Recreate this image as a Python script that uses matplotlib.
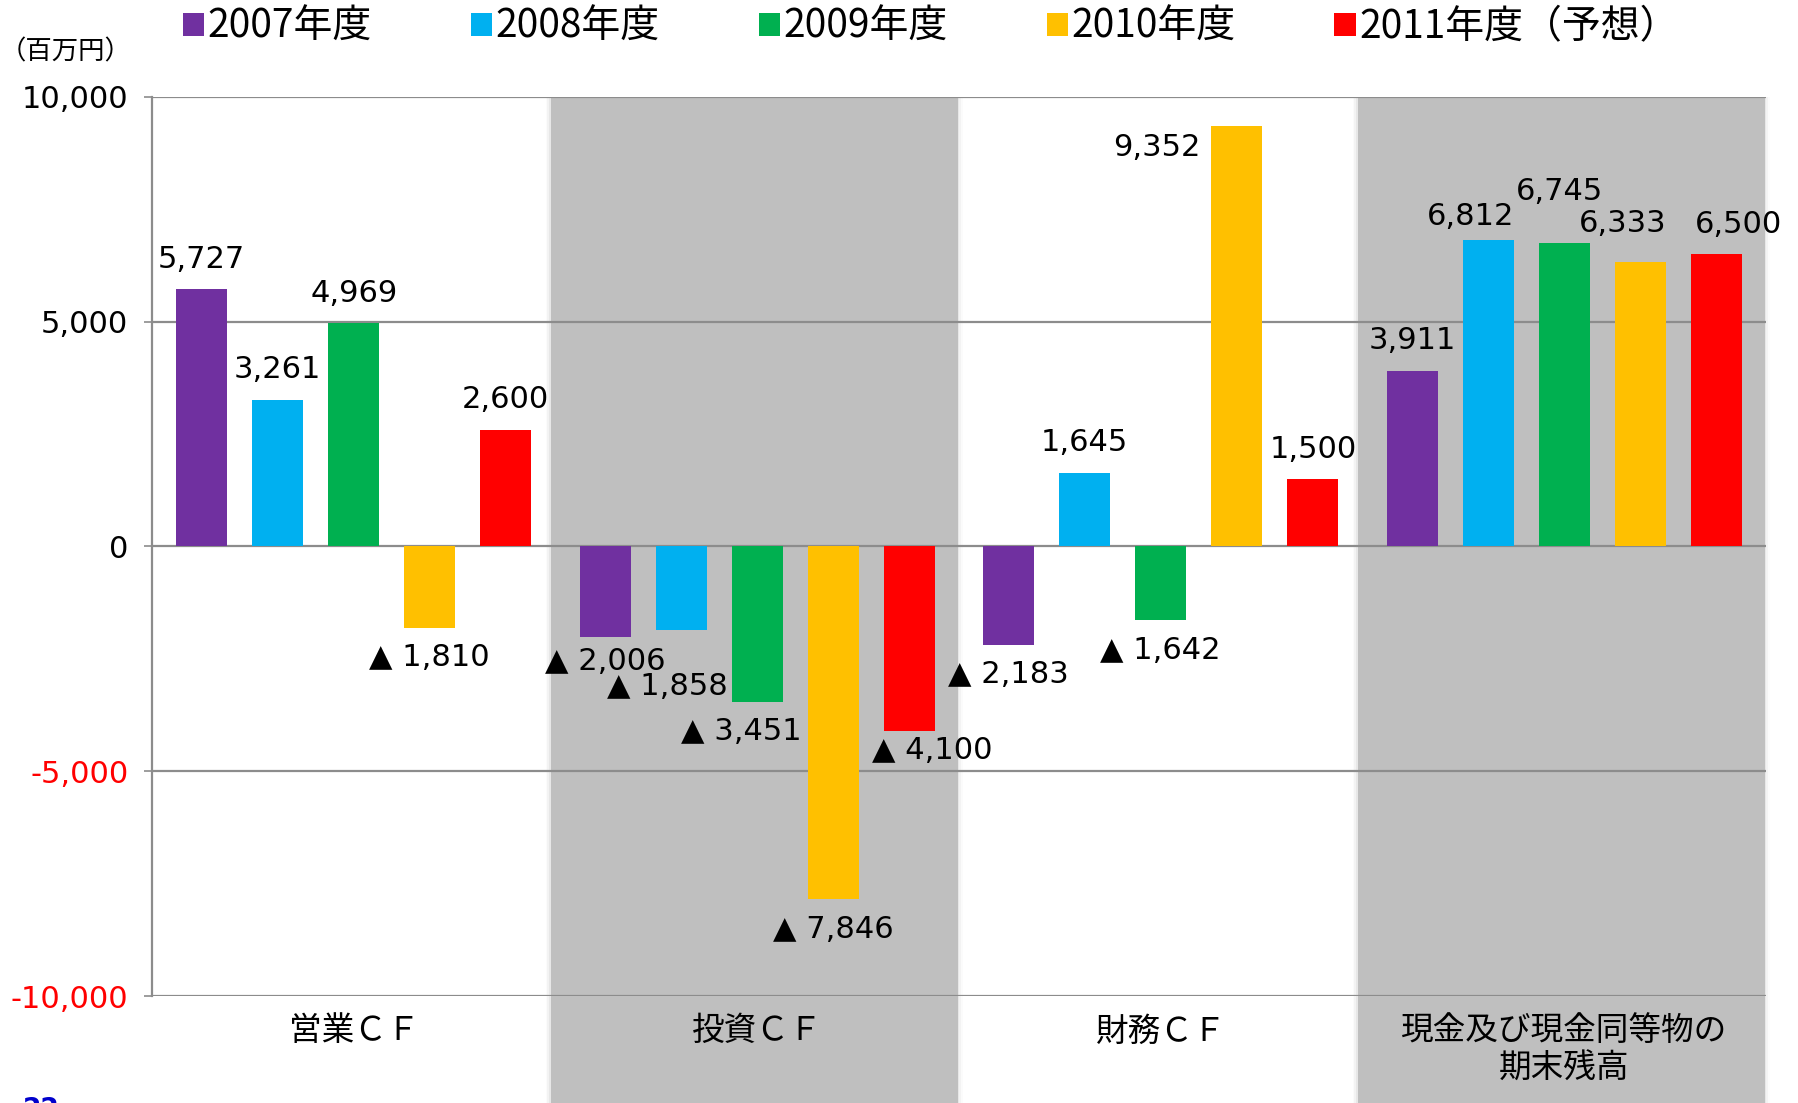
import matplotlib
matplotlib.use("Agg")
import matplotlib.pyplot as plt
import numpy as np
from matplotlib.ticker import FuncFormatter, FixedLocator
from matplotlib.font_manager import FontProperties

# chart data (百万円)
categories = ["営業ＣＦ", "投資ＣＦ", "財務ＣＦ", "現金及び現金同等物の\n期末残高"]
years = ["2007年度", "2008年度", "2009年度", "2010年度", "2011年度（予想）"]
cf_2007 = [5727, -2006, -2183, 3911]
cf_2008 = [3261, -1858, 1645, 6812]
cf_2009 = [4969, -3451, -1642, 6745]
cf_2010 = [-1810, -7846, 9352, 6333]
cf_2011 = [2600, -4100, 1500, 6500]
y_ticks = [-10000, -5000, 0, 5000, 10000]

colors = ["#7030A0", "#00B0F0", "#00B050", "#FFC000", "#FF0000"]
shaded = [1, 3]

# hand nudges of data labels (pixels), as in the slide
nudge = {
    (0, 1): (0, 5), (1, 1): (-14, -26), (2, 1): (-16, 0), (4, 1): (23, 10),
    (3, 2): (-80, -51),
    (1, 3): (-18, -6), (2, 3): (-5, 22), (3, 3): (-18, 8), (4, 3): (22, 0),
}

num_font = ["DejaVu Sans", "Noto Sans CJK JP"]
jp_font = ["Noto Sans CJK JP", "DejaVu Sans"]
plt.rcParams["font.family"] = num_font

W, H = 1798, 1103
fig = plt.figure(figsize=(W / 100, H / 100), dpi=100)
ax = fig.add_axes([152 / W, 1 - 996 / H, (1766 - 152) / W, (996 - 97) / H])

series = [cf_2007, cf_2008, cf_2009, cf_2010, cf_2011]
x = np.arange(len(categories))
pitch = 0.1885
bw = 0.126

# shaded category bands, running down past the axis to the page bottom
ylo = -(H - 996) / (996 - 97)
for i in shaded:
    left, right = i - 0.512, i + 0.497
    ax.axvspan(left, right, ymin=ylo, ymax=1,
               color="#BFBFBF", lw=0, zorder=0, clip_on=False)
    for k, a in enumerate([0.10, 0.06, 0.03]):
        off = (k + 1) * 0.004
        ax.axvspan(left - off, left, ymin=ylo, ymax=1, color="#808080",
                   alpha=a, lw=0, zorder=0, clip_on=False)
        ax.axvspan(right, right + off, ymin=ylo, ymax=1, color="#808080",
                   alpha=a, lw=0, zorder=0, clip_on=False)

bars = []
for j, vals in enumerate(series):
    b = ax.bar(x + (j - 2) * pitch, vals, width=bw, color=colors[j],
               label=years[j], zorder=2)
    bars.append(b)
    for i, v in enumerate(vals):
        dx, dy = nudge.get((j, i), (0, 0))
        if v >= 0:
            txt = f"{v:,}"
            oy = 30 + dy
        else:
            txt = f"▲ {abs(v):,}"
            oy = -30 + dy
        ax.annotate(txt, xy=(x[i] + (j - 2) * pitch, v), xytext=(dx, oy),
                    textcoords="offset pixels", ha="center", va="center",
                    fontsize=22, color="black", zorder=3)

ax.set_xlim(-0.5, 3.5)
ax.set_ylim(-10000, 10000)
ax.yaxis.set_major_locator(FixedLocator(y_ticks))
ax.yaxis.set_major_formatter(FuncFormatter(lambda v, p: f"{int(v):,}"))
ax.yaxis.grid(True, color="#8C8C8C", lw=1.6, zorder=1)
ax.set_axisbelow(True)

for s in ["top", "right", "bottom"]:
    ax.spines[s].set_visible(False)
ax.spines["left"].set_color("#8C8C8C")
ax.spines["left"].set_linewidth(1.6)

ax.tick_params(axis="y", length=6, width=1.2, color="#8C8C8C", pad=11,
               labelsize=22)
for lbl, v in zip(ax.get_yticklabels(), y_ticks):
    lbl.set_color("red" if v < 0 else "black")

ax.set_xticks(x)
ax.set_xticklabels(categories, fontproperties=FontProperties(family=jp_font, size=23.5),
                   linespacing=1.2)
ax.tick_params(axis="x", length=0, pad=14)

leg = ax.legend(handles=bars, loc="center left",
                bbox_to_anchor=(183 / W, 1 - 27 / H), bbox_transform=fig.transFigure,
                ncol=5, frameon=False, borderpad=0, borderaxespad=0,
                handlelength=0.55, handleheight=0.55, handletextpad=0.08,
                columnspacing=2.55,
                prop=FontProperties(family=jp_font, size=28))

fig.text(0, 1 - 52 / H, "（百万円）", ha="left", va="center",
         fontproperties=FontProperties(family=jp_font, size=19))

# page number, cut off at the bottom edge of the slide
fig.text(23 / W, -14 / H, "22", ha="left", va="baseline", color="#0000CC",
         fontsize=19, fontweight="bold")

fig.savefig("out.png", dpi=100)
